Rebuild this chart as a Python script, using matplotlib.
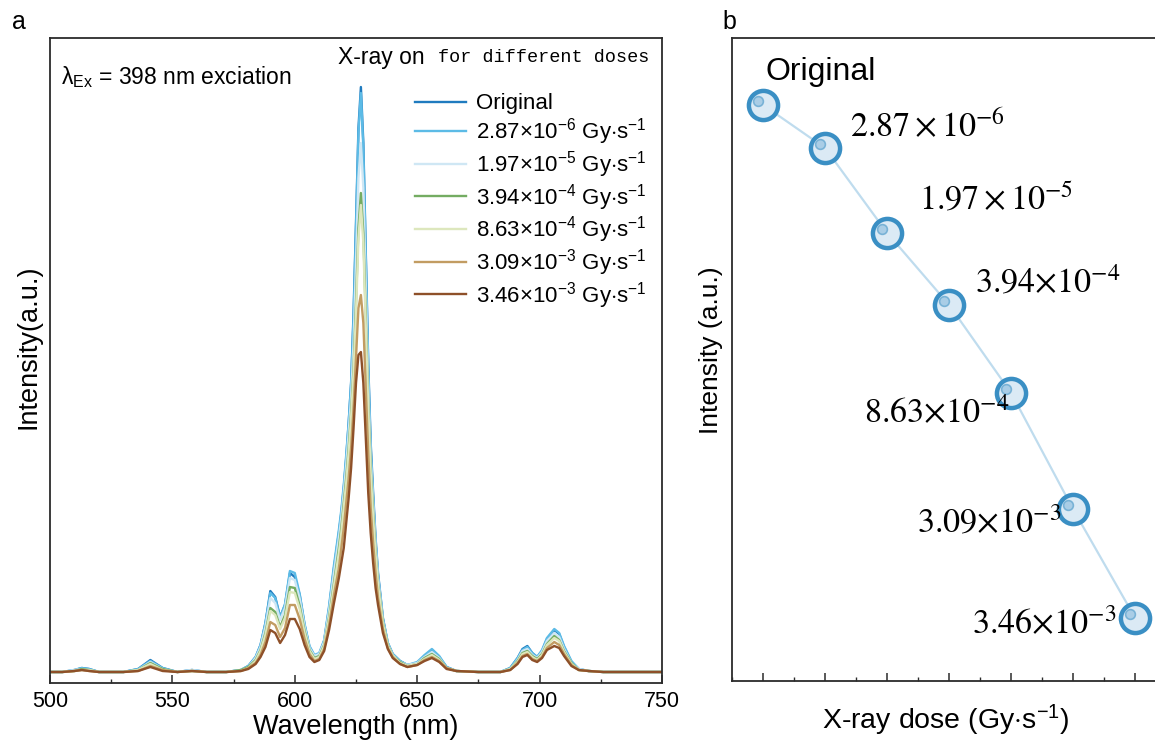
import numpy as np
import matplotlib
matplotlib.use("Agg")
from matplotlib import pyplot as plt
from matplotlib.ticker import MultipleLocator, NullLocator
import matplotlib.transforms as mtrans

plt.rcParams['font.family'] = ['Liberation Sans', 'DejaVu Sans']
plt.rcParams['mathtext.fontset'] = 'custom'
plt.rcParams['mathtext.rm'] = 'Liberation Sans'
plt.rcParams['mathtext.it'] = 'Liberation Sans:italic'
plt.rcParams['mathtext.bf'] = 'Liberation Sans:bold'

# ---- panel a: emission spectra (a.u.) ----
wavelength = [500, 505, 510, 513, 516, 520, 530, 536, 541, 546, 552, 558, 564,
              572, 578, 581, 584, 586, 588, 590, 592, 594, 596, 598, 600, 602, 604, 606, 608, 610, 612, 614,
              616, 618, 619, 620, 621, 622, 623, 624, 625, 626, 627, 628, 629, 630, 631, 632, 633, 634, 636, 638, 640,
              643, 646, 650, 653, 656, 659, 662, 666, 675, 684, 688, 691, 693, 695, 697, 699, 701, 703, 706, 708, 710,
              713, 716, 720, 726, 735, 750]

spec_original = [1.1, 1.1, 1.3, 1.5, 1.4, 1.1, 1.1, 1.4, 2.3, 1.5, 1.1, 1.3, 1.1,
                 1.1, 1.3, 1.7, 2.6, 3.8, 6.0, 9.2, 8.6, 6.6, 7.8, 11.0, 10.6, 8.8, 5.8, 3.6, 2.7, 2.9, 4.2, 7.5,
                 11.5, 15.0, 17.0, 19.5, 22.5, 26.0, 30.0, 37.0, 46.0, 55.5, 59.6, 54.0, 43.0, 32.0, 24.0, 19.0, 14.5, 11.0, 6.5, 4.0, 2.9,
                 2.2, 1.8, 2.0, 2.7, 3.3, 2.6, 1.6, 1.2, 1.1, 1.1, 1.5, 2.5, 3.4, 3.7, 3.0, 2.6, 3.2, 4.4, 5.3, 4.9, 3.6,
                 2.1, 1.4, 1.2, 1.1, 1.1, 1.1]
spec_287e6 = [1.1, 1.1, 1.3, 1.5, 1.4, 1.1, 1.1, 1.4, 2.2, 1.5, 1.1, 1.3, 1.1,
              1.1, 1.3, 1.7, 2.6, 3.8, 6.0, 9.0, 8.5, 6.5, 7.9, 11.2, 11.0, 8.9, 5.9, 3.7, 2.8, 3.0, 4.3, 7.7,
              11.8, 15.3, 17.3, 19.8, 22.8, 26.0, 30.0, 36.5, 45.5, 55.0, 59.0, 53.5, 42.5, 31.5, 23.5, 18.5, 14.0, 10.8, 6.4, 4.0, 2.9,
              2.2, 1.8, 2.1, 2.8, 3.4, 2.7, 1.6, 1.2, 1.1, 1.1, 1.5, 2.5, 3.3, 3.6, 3.0, 2.6, 3.3, 4.5, 5.4, 5.0, 3.7,
              2.2, 1.4, 1.2, 1.1, 1.1, 1.1]
spec_197e5 = [1.1, 1.1, 1.3, 1.4, 1.3, 1.1, 1.1, 1.3, 2.1, 1.4, 1.1, 1.3, 1.1,
              1.1, 1.3, 1.6, 2.5, 3.6, 5.6, 8.5, 8.0, 6.3, 7.5, 10.5, 10.3, 8.4, 5.6, 3.5, 2.7, 2.9, 4.1, 7.2,
              11.0, 14.5, 16.5, 19.0, 21.8, 25.0, 28.5, 34.0, 42.0, 50.5, 54.0, 49.5, 39.5, 29.5, 22.5, 18.0, 13.8, 10.5, 6.2, 3.9, 2.8,
              2.1, 1.8, 2.0, 2.6, 3.1, 2.5, 1.5, 1.2, 1.1, 1.1, 1.4, 2.3, 3.2, 3.4, 2.8, 2.5, 3.1, 4.2, 5.0, 4.6, 3.4,
              2.0, 1.4, 1.2, 1.1, 1.1, 1.1]
spec_394e4 = [1.1, 1.1, 1.2, 1.4, 1.3, 1.1, 1.1, 1.3, 2.0, 1.4, 1.1, 1.2, 1.1,
              1.1, 1.3, 1.6, 2.3, 3.3, 5.0, 7.5, 7.1, 5.6, 6.8, 9.6, 9.5, 7.7, 5.2, 3.3, 2.5, 2.7, 3.8, 6.6,
              10.0, 13.5, 15.5, 18.0, 20.5, 23.5, 27.0, 31.5, 38.0, 45.5, 49.0, 45.0, 36.5, 28.0, 21.5, 17.0, 13.0, 10.0, 6.0, 3.8, 2.7,
              2.1, 1.7, 1.9, 2.5, 2.9, 2.4, 1.5, 1.2, 1.1, 1.1, 1.4, 2.2, 3.0, 3.2, 2.7, 2.4, 2.9, 3.9, 4.7, 4.3, 3.2,
              2.0, 1.3, 1.2, 1.1, 1.1, 1.1]
spec_863e4 = [1.1, 1.1, 1.2, 1.3, 1.3, 1.1, 1.1, 1.3, 1.9, 1.3, 1.1, 1.2, 1.1,
              1.1, 1.2, 1.5, 2.2, 3.2, 4.8, 7.2, 6.8, 5.4, 6.5, 9.1, 9.0, 7.4, 5.0, 3.2, 2.4, 2.6, 3.7, 6.4,
              9.7, 13.0, 15.0, 17.5, 20.0, 23.0, 26.5, 31.0, 37.0, 44.5, 47.8, 44.0, 35.5, 27.5, 21.0, 16.5, 12.8, 9.8, 5.9, 3.7, 2.7,
              2.0, 1.7, 1.9, 2.4, 2.8, 2.3, 1.5, 1.2, 1.1, 1.1, 1.4, 2.1, 2.9, 3.1, 2.6, 2.3, 2.8, 3.8, 4.5, 4.2, 3.1,
              1.9, 1.3, 1.2, 1.1, 1.1, 1.1]
spec_309e3 = [1.1, 1.1, 1.2, 1.3, 1.2, 1.1, 1.1, 1.2, 1.7, 1.3, 1.1, 1.2, 1.1,
              1.1, 1.2, 1.5, 2.0, 2.8, 4.1, 6.1, 5.8, 4.6, 5.5, 7.8, 7.8, 6.4, 4.4, 2.9, 2.2, 2.4, 3.4, 5.8,
              8.8, 11.5, 13.5, 15.5, 18.0, 20.5, 23.5, 27.5, 32.5, 37.5, 38.8, 36.0, 29.5, 23.0, 17.5, 14.0, 11.0, 8.5, 5.4, 3.5, 2.6,
              1.9, 1.6, 1.8, 2.3, 2.6, 2.2, 1.5, 1.2, 1.1, 1.1, 1.3, 2.0, 2.7, 2.9, 2.4, 2.2, 2.6, 3.5, 4.1, 3.8, 2.9,
              1.8, 1.3, 1.2, 1.1, 1.1, 1.1]
spec_346e3 = [1.1, 1.1, 1.2, 1.3, 1.2, 1.1, 1.1, 1.2, 1.6, 1.2, 1.1, 1.2, 1.1,
              1.1, 1.2, 1.4, 1.9, 2.6, 3.6, 5.3, 5.0, 4.0, 4.8, 6.4, 6.4, 5.4, 3.8, 2.6, 2.1, 2.3, 3.2, 5.3,
              8.0, 10.5, 12.0, 13.5, 16.0, 18.5, 21.5, 25.5, 30.0, 32.8, 33.1, 30.0, 24.5, 19.0, 15.0, 12.0, 9.5, 7.8, 5.0, 3.4, 2.5,
              1.9, 1.6, 1.8, 2.2, 2.5, 2.1, 1.4, 1.2, 1.1, 1.1, 1.3, 1.9, 2.6, 2.8, 2.3, 2.1, 2.5, 3.3, 3.7, 3.5, 2.7,
              1.7, 1.3, 1.2, 1.1, 1.1, 1.1]

spectra = [spec_original, spec_287e6, spec_197e5, spec_394e4, spec_863e4, spec_309e3, spec_346e3]
legend_labels = ['Original',
                 r'2.87$\times$10$^{-6}$ Gy$\cdot$s$^{-1}$',
                 r'1.97$\times$10$^{-5}$ Gy$\cdot$s$^{-1}$',
                 r'3.94$\times$10$^{-4}$ Gy$\cdot$s$^{-1}$',
                 r'8.63$\times$10$^{-4}$ Gy$\cdot$s$^{-1}$',
                 r'3.09$\times$10$^{-3}$ Gy$\cdot$s$^{-1}$',
                 r'3.46$\times$10$^{-3}$ Gy$\cdot$s$^{-1}$']
colors = ['#1f7bbf', '#5cbbe6', '#cfe7f4', '#74ac62', '#dde7bd', '#c29c62', '#8e5029']

# ---- panel b: integrated intensity vs dose ----
dose_index = [0, 1, 2, 3, 4, 5, 6]
dose_intensity = [0.896, 0.829, 0.697, 0.585, 0.448, 0.267, 0.098]
dose_labels = ['Original',
               r'$2.87\times10^{-6}$',
               r'$1.97\times10^{-5}$',
               r'$3.94{\times}10^{-4}$',
               r'$8.63{\times}10^{-4}$',
               r'$3.09{\times}10^{-3}$',
               r'$3.46{\times}10^{-3}$']
# label offsets in pixels (x, y) and alignment
label_off = [(2, 25), (25, 11), (32, 23), (26, 12), (-2, -30), (-12, -23), (-19, -15)]
label_ha = ['left', 'left', 'left', 'left', 'right', 'right', 'right']

fig = plt.figure(figsize=(11.55, 7.44), dpi=100)
W, H = 1155.0, 744.0
axa = fig.add_axes([50 / W, 1 - 683 / H, 612 / W, 645 / H])
axb = fig.add_axes([732 / W, 1 - 681 / H, (1160 - 732) / W, 643 / H])

spine_col = '#2b2b2b'
for s in range(len(spectra)):
    axa.plot(wavelength, spectra[s], color=colors[s], lw=1.7, label=legend_labels[s])

axa.set_xlim(500, 750)
axa.set_ylim(0, 64.5)
axa.xaxis.set_major_locator(MultipleLocator(50))
axa.xaxis.set_minor_locator(MultipleLocator(25))
axa.yaxis.set_major_locator(NullLocator())
axa.tick_params(axis='x', which='major', direction='in', length=6, width=1.1, labelsize=15.5, pad=6, color=spine_col)
axa.tick_params(axis='x', which='minor', direction='in', length=3, width=1.0, color=spine_col)
for sp in axa.spines.values():
    sp.set_linewidth(1.3)
    sp.set_color(spine_col)
axa.set_xlabel('Wavelength (nm)', fontsize=19.5, labelpad=1)
axa.set_ylabel('Intensity(a.u.)', fontsize=19.5)
axa.yaxis.set_label_coords(-0.014, 0.522)

axa.text(0.018, 0.940, r'λ$_{\mathrm{Ex}}$ = 398 nm exciation', transform=axa.transAxes,
         fontsize=16.5, ha='left', va='center')
axa.text(0.980, 0.970, 'for different doses', transform=axa.transAxes, fontsize=13.3,
         family='Liberation Mono', ha='right', va='center')
axa.text(0.612, 0.970, 'X-ray on', transform=axa.transAxes, fontsize=16.5, ha='right', va='center')

axa.legend(loc='upper left', bbox_to_anchor=(0.596, 0.914), frameon=False, fontsize=16,
           handlelength=2.3, handletextpad=0.45, labelspacing=0.08, borderpad=0, borderaxespad=0)

# panel b
axb.plot(dose_index, dose_intensity, color='#bfdcee', lw=1.6, zorder=2)
axb.plot(dose_index, dose_intensity, ls='none', marker='o', ms=21, mfc='#dbeaf5', mec='#3a8fc4',
         mew=3.2, zorder=3)
shift = mtrans.ScaledTranslation(-3.5 / 72, 3.0 / 72, fig.dpi_scale_trans)
axb.plot(dose_index, dose_intensity, ls='none', marker='o', ms=7, mfc='#a9cde6', mec='#78b2d6',
         mew=1.2, zorder=4, transform=axb.transData + shift)
for i in range(len(dose_index)):
    if i == 0:
        axb.annotate(dose_labels[i], (dose_index[i], dose_intensity[i]), xytext=label_off[i],
                     textcoords='offset pixels', ha=label_ha[i], va='baseline', fontsize=23)
    else:
        axb.annotate(dose_labels[i], (dose_index[i], dose_intensity[i]), xytext=label_off[i],
                     textcoords='offset pixels', ha=label_ha[i], va='baseline', fontsize=24.5,
                     math_fontfamily='stix', zorder=5)

axb.set_xlim(-0.5, 6.4)
axb.set_ylim(0, 1)
axb.xaxis.set_major_locator(MultipleLocator(1))
axb.xaxis.set_minor_locator(MultipleLocator(0.5))
axb.yaxis.set_major_locator(NullLocator())
axb.tick_params(axis='x', which='major', direction='in', length=6, width=1.1, labelbottom=False, color=spine_col)
axb.tick_params(axis='x', which='minor', direction='in', length=3, width=1.0, color=spine_col)
for sp in axb.spines.values():
    sp.set_linewidth(1.3)
    sp.set_color(spine_col)
axb.spines['right'].set_visible(False)
axb.set_xlabel(r'X-ray dose (Gy$\cdot$s$^{-1}$)', fontsize=20.5, labelpad=12)
axb.set_ylabel('Intensity (a.u.)', fontsize=19)
axb.yaxis.set_label_coords(-0.022, 0.514)

fig.text(12 / W, 1 - 22 / H, 'a', fontsize=18, ha='left', va='center')
fig.text(722 / W, 1 - 22 / H, 'b', fontsize=18, ha='left', va='center')

fig.savefig('out.png', dpi=100)
